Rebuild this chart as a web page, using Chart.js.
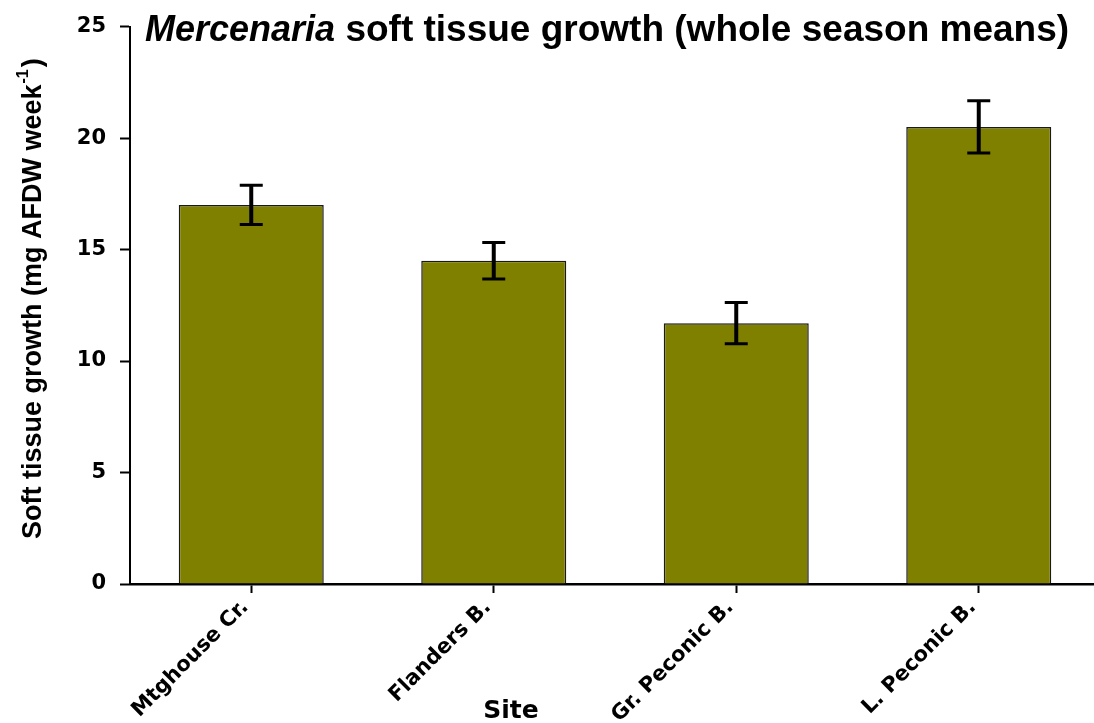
<!DOCTYPE html>
<html>
<head>
<meta charset="utf-8">
<script src="https://cdn.jsdelivr.net/npm/chart.js@4.4.0/dist/chart.umd.min.js"></script>
<style>
html, body { margin: 0; padding: 0; overflow: hidden; background: #fff; }
#wrap { width: 1102px; height: 723px; position: relative; }
</style>
</head>
<body>
<div id="wrap"><canvas id="growthChart"></canvas></div>
<script>
// Data
const sites = ['Mtghouse Cr.', 'Flanders B.', 'Gr. Peconic B.', 'L. Peconic B.'];
const growthMeans = [17.0, 14.5, 11.7, 20.5];
const growthErrors = [0.88, 0.82, 0.93, 1.17];
const yTicks = [0, 5, 10, 15, 20, 25];

// error bars drawn on top of each bar
const errorBars = {
    id: 'errorBars',
    afterDatasetsDraw(chart) {
        const ctx = chart.ctx;
        const y = chart.scales.y;
        const bars = chart.getDatasetMeta(0).data;
        ctx.save();
        ctx.strokeStyle = '#000';
        bars.forEach((bar, i) => {
            const top = y.getPixelForValue(growthMeans[i] + growthErrors[i]);
            const bottom = y.getPixelForValue(growthMeans[i] - growthErrors[i]);
            ctx.lineWidth = 4;
            ctx.beginPath();
            ctx.moveTo(bar.x, top);
            ctx.lineTo(bar.x, bottom);
            ctx.stroke();
            ctx.lineWidth = 3;
            ctx.beginPath();
            ctx.moveTo(bar.x - 11.5, top);
            ctx.lineTo(bar.x + 11.5, top);
            ctx.moveTo(bar.x - 11.5, bottom);
            ctx.lineTo(bar.x + 11.5, bottom);
            ctx.stroke();
        });
        ctx.restore();
    }
};

// title and axis titles (mixed italic / superscript)
const labels = {
    id: 'labels',
    afterDraw(chart) {
        const ctx = chart.ctx;
        ctx.save();
        ctx.fillStyle = '#000';
        ctx.textBaseline = 'alphabetic';
        ctx.textAlign = 'left';

        // title
        ctx.font = 'italic bold 36px "Liberation Sans", Arial, sans-serif';
        ctx.fillText('Mercenaria', 145, 41);
        let w = ctx.measureText('Mercenaria').width;
        ctx.font = 'bold 37px "Liberation Sans", Arial, sans-serif';
        ctx.fillText(' soft tissue growth (whole season means)', 145 + w, 41);

        // x title
        ctx.font = 'bold 25px "DejaVu Sans", sans-serif';
        ctx.textAlign = 'center';
        ctx.fillText('Site', 511, 718);

        // y title
        ctx.translate(41, 539);
        ctx.rotate(-Math.PI / 2);
        ctx.textAlign = 'left';
        ctx.font = 'bold 27px "Liberation Sans", Arial, sans-serif';
        const main = 'Soft tissue growth (mg AFDW week';
        ctx.fillText(main, 0, 0);
        let x = ctx.measureText(main).width;
        ctx.font = 'bold 16px "Liberation Sans", Arial, sans-serif';
        ctx.fillText('-1', x + 1, -13);
        x += ctx.measureText('-1').width + 3;
        ctx.font = 'bold 27px "Liberation Sans", Arial, sans-serif';
        ctx.fillText(')', x, 0);
        ctx.restore();
    }
};

Chart.defaults.font.family = '"DejaVu Sans", sans-serif';
Chart.defaults.color = '#000';

const growthCtx = document.getElementById('growthChart').getContext('2d');
const growthChart = new Chart(growthCtx, {
    type: 'bar',
    data: {
        labels: sites,
        datasets: [{
            label: 'Soft tissue growth',
            data: growthMeans,
            backgroundColor: '#808000',
            borderColor: '#1a1a1a',
            borderWidth: 1.5,
            barPercentage: 0.598,
            categoryPercentage: 1
        }]
    },
    options: {
        responsive: true,
        maintainAspectRatio: false,
        animation: false,
        layout: {
            padding: { top: 20, right: 2, left: 0, bottom: 0 }
        },
        plugins: {
            legend: { display: false },
            title: { display: false },
            tooltip: { enabled: false }
        },
        scales: {
            x: {
                grid: {
                    display: true,
                    drawOnChartArea: false,
                    offset: false,
                    tickLength: 9,
                    tickWidth: 2,
                    tickColor: '#000'
                },
                border: { color: '#000', width: 2.5 },
                ticks: {
                    font: { size: 21, weight: 'bold' },
                    maxRotation: 45,
                    minRotation: 45,
                    padding: 2,
                    labelOffset: -6
                },
                afterFit(scale) { scale.height = 139; }
            },
            y: {
                min: 0,
                max: 25,
                afterBuildTicks(scale) {
                    scale.ticks = yTicks.map(v => ({ value: v }));
                },
                grid: {
                    display: true,
                    drawOnChartArea: false,
                    tickLength: 10,
                    tickWidth: 2,
                    tickColor: '#000'
                },
                border: { color: '#000', width: 2 },
                ticks: {
                    font: { size: 21, weight: 'bold' },
                    padding: 14
                },
                afterFit(scale) { scale.width = 130; }
            }
        }
    },
    plugins: [errorBars, labels]
});
</script>
</body>
</html>
